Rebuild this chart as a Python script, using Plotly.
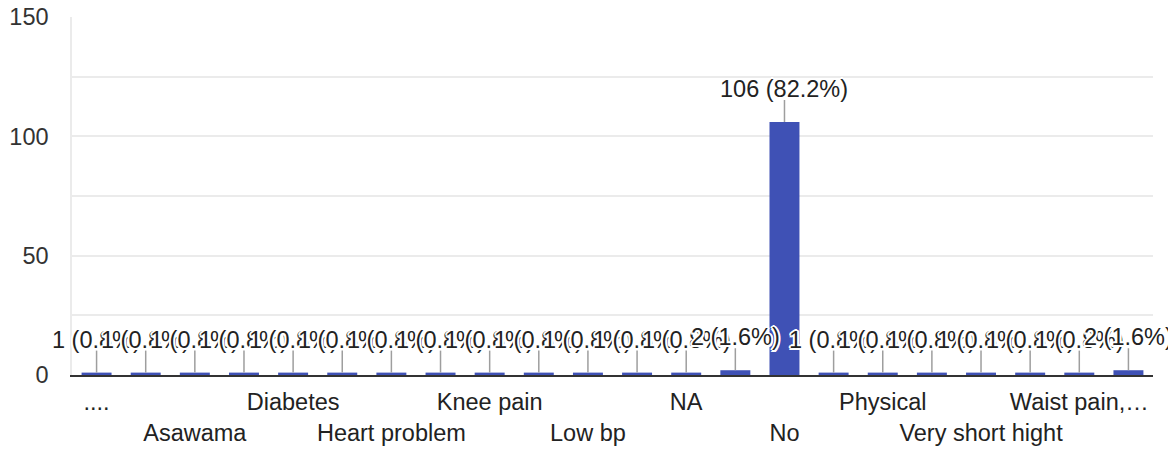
import plotly.graph_objects as go

# Responses per option (options in alphabetical order)
counts = [1, 1, 1, 1, 1, 1, 1, 1, 1, 1, 1, 1, 1, 2, 106, 1, 1, 1, 1, 1, 1, 2]

# Option names printed under the axis, staggered over two rows
row1_labels = ["....", "Diabetes", "Knee pain", "NA", "Physical", "Waist pain,…"]
row1_pos = [0, 4, 8, 12, 16, 20]
row2_labels = ["Asawama", "Heart problem", "Low bp", "No", "Very short hight"]
row2_pos = [2, 6, 10, 14, 18]

y_ticks = [0, 50, 100, 150]

FONT = "Liberation Sans, Arial, sans-serif"
FS = 23.5
TEXT = "#222222"
BAR = "#3f51b5"
GRID = "#ebebeb"
HALO = ("-2px 0 0 #fff, 2px 0 0 #fff, 0 -2px 0 #fff, 0 2px 0 #fff, "
        "-1.5px -1.5px 0 #fff, 1.5px 1.5px 0 #fff, -1.5px 1.5px 0 #fff, 1.5px -1.5px 0 #fff")

total = sum(counts)
xs = list(range(len(counts)))

fig = go.Figure()
fig.add_trace(go.Bar(x=xs, y=counts, marker=dict(color=BAR, line=dict(width=0)),
                     hoverinfo="skip", showlegend=False))

# value labels, each with a short leader line rising from the bar top
for x, v in zip(xs, counts):
    fig.add_shape(
        type="line", xref="x", yref="y", ysizemode="pixel", yanchor=v,
        x0=x, x1=x, y0=0, y1=22,
        line=dict(color="#9e9e9e", width=1.5), layer="above",
    )
    fig.add_annotation(
        x=x, y=v, xref="x", yref="y",
        text=f"{v} ({v / total * 100:.1f}%)",
        showarrow=False, yshift=33, yanchor="middle", xanchor="center",
        font=dict(family=FONT, size=FS, color=TEXT, shadow=HALO),
    )

# two staggered rows of category names on one axis
tickvals = row1_pos + row2_pos
ticktext = row1_labels + ["<br>" + t for t in row2_labels]

fig.update_layout(
    width=1168, height=453,
    margin=dict(l=72, r=15, t=17, b=78, pad=0),
    paper_bgcolor="white", plot_bgcolor="white",
    bargap=0.39,
    font=dict(family=FONT, size=FS, color=TEXT),
    xaxis=dict(
        range=[-0.5, len(counts) - 0.5], automargin=False,
        tickmode="array", tickvals=tickvals, ticktext=ticktext,
        showline=True, linecolor="#333333", linewidth=2,
        showgrid=False, zeroline=False, ticks="",
        ticklabelstandoff=5,
        tickfont=dict(family=FONT, size=FS, color=TEXT),
    ),
    yaxis=dict(
        range=[0, 150], automargin=False,
        tickmode="array", tickvals=y_ticks,
        showgrid=True, gridcolor=GRID, gridwidth=1.5,
        minor=dict(dtick=25, showgrid=True, gridcolor=GRID, gridwidth=1.5),
        showline=True, linecolor=GRID, linewidth=1.5,
        zeroline=False, ticks="",
        ticklabelstandoff=17,
        tickfont=dict(family=FONT, size=FS, color="#333333"),
    ),
)

fig.write_html("out.html")
